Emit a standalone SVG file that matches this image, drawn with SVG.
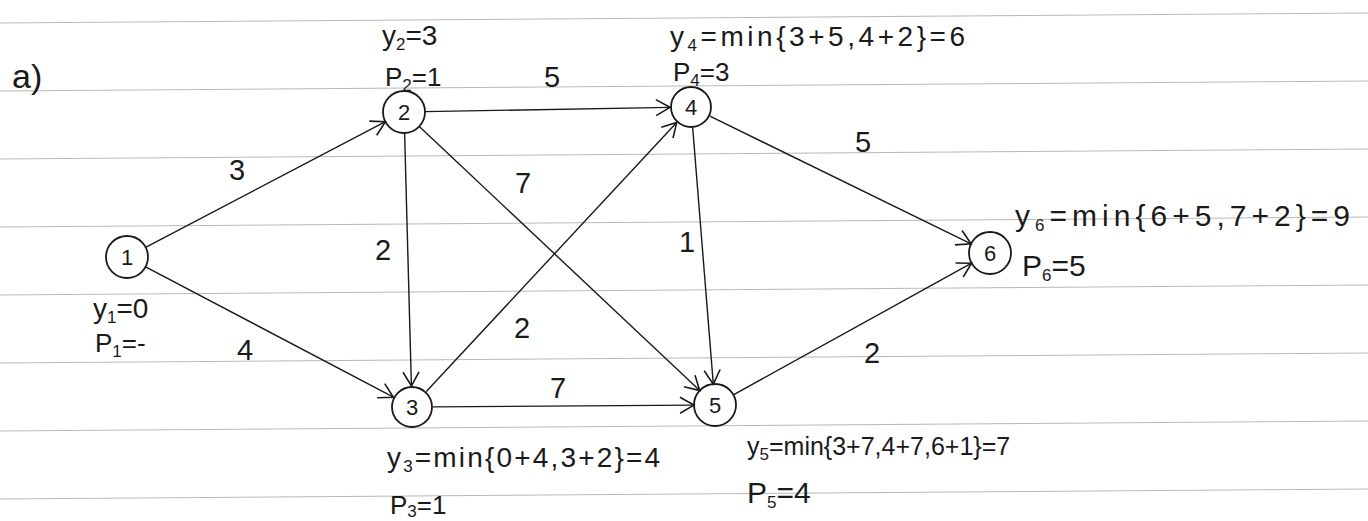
<svg xmlns="http://www.w3.org/2000/svg" width="1368" height="521" viewBox="0 0 1368 521">
  <style>
    .rule { stroke: #b8b8b8; stroke-width: 1; fill: none; }
    .edge { stroke: #1a1a1a; stroke-width: 1.4; fill: none; marker-end: url(#arr); }
    .node circle { fill: none; stroke: #1a1a1a; stroke-width: 1.8; }
    .nl { font-family: "Liberation Sans", Arial, sans-serif; font-size: 22px; fill: #1a1a1a; text-anchor: middle; }
    .w { font-family: "Liberation Sans", Arial, sans-serif; font-size: 29px; fill: #1a1a1a; text-anchor: middle; }
    .ann { font-family: "Liberation Sans", Arial, sans-serif; font-size: 28px; fill: #1a1a1a; text-anchor: start; }
    .p25 { font-size: 25px; }
    .p26 { font-size: 26px; }
    .p30 { font-size: 30px; }
    .big { font-size: 34px; }
    .sub { font-size: 17px; }
  </style>
  <defs>
    <marker id="arr" markerWidth="20" markerHeight="20" refX="0" refY="0" viewBox="-16 -10 20 20" orient="auto" markerUnits="userSpaceOnUse">
      <path d="M -14 -8 L 0 0 L -14 8" fill="none" stroke="#1a1a1a" stroke-width="1.6"/>
    </marker>
  </defs>
  <rect width="1368" height="521" fill="#ffffff"/>
  <g id="paper">
    <line class="rule" x1="0" y1="23" x2="1368" y2="13"/>
    <line class="rule" x1="0" y1="91" x2="1368" y2="81"/>
    <line class="rule" x1="0" y1="159" x2="1368" y2="149"/>
    <line class="rule" x1="0" y1="227" x2="1368" y2="217"/>
    <line class="rule" x1="0" y1="295" x2="1368" y2="285"/>
    <line class="rule" x1="0" y1="363" x2="1368" y2="353"/>
    <line class="rule" x1="0" y1="431" x2="1368" y2="421"/>
    <line class="rule" x1="0" y1="499" x2="1368" y2="489"/>
  </g>
  <text class="ann big" x="12" y="88">a)</text>
  <g id="connectors">
    <line class="edge" x1="145.6" y1="247.3" x2="385.4" y2="121.7"/>
    <line class="edge" x1="145.6" y1="266.8" x2="393.4" y2="397.2"/>
    <line class="edge" x1="425" y1="111.6" x2="670" y2="107.4"/>
    <line class="edge" x1="404.6" y1="133" x2="411.4" y2="386"/>
    <line class="edge" x1="419.3" y1="126.4" x2="699.7" y2="390.6"/>
    <line class="edge" x1="426.3" y1="391.6" x2="676.7" y2="122.4"/>
    <line class="edge" x1="433" y1="406.9" x2="694" y2="405.1"/>
    <line class="edge" x1="692.7" y1="127.9" x2="713.3" y2="384.1"/>
    <line class="edge" x1="709.9" y1="116.2" x2="971.1" y2="243.8"/>
    <line class="edge" x1="733.4" y1="394.8" x2="971.6" y2="263.2"/>
    <text class="w" x="237" y="180">3</text>
    <text class="w" x="245" y="360">4</text>
    <text class="w" x="552" y="87">5</text>
    <text class="w" x="383" y="260">2</text>
    <text class="w" x="523" y="193">7</text>
    <text class="w" x="522" y="338">2</text>
    <text class="w" x="558" y="398">7</text>
    <text class="w" x="687" y="252">1</text>
    <text class="w" x="863" y="152">5</text>
    <text class="w" x="872" y="363">2</text>
  </g>
  <g id="node1" class="node">
    <circle cx="127" cy="257" r="21"/>
    <text class="nl" x="127" y="265">1</text>
    <text class="ann" x="93" y="318">y<tspan class="sub" dy="5">1</tspan><tspan dy="-5">=0</tspan></text>
    <text class="ann p26" x="95" y="352">P<tspan class="sub" dy="5">1</tspan><tspan dy="-5">=-</tspan></text>
  </g>
  <g id="node2" class="node">
    <circle cx="404" cy="112" r="21"/>
    <text class="nl" x="404" y="120">2</text>
    <text class="ann" x="382" y="45">y<tspan class="sub" dy="5">2</tspan><tspan dy="-5">=3</tspan></text>
    <text class="ann p26" x="385" y="86">P<tspan class="sub" dy="5">2</tspan><tspan dy="-5">=1</tspan></text>
  </g>
  <g id="node3" class="node">
    <circle cx="412" cy="407" r="20"/>
    <text class="nl" x="412" y="415">3</text>
    <text class="ann" x="387" y="467" textLength="273">y<tspan class="sub" dy="5">3</tspan><tspan dy="-5">=min{0+4,3+2}=4</tspan></text>
    <text class="ann p26" x="390" y="514">P<tspan class="sub" dy="3">3</tspan><tspan dy="-3">=1</tspan></text>
  </g>
  <g id="node4" class="node">
    <circle cx="691" cy="107" r="20"/>
    <text class="nl" x="691" y="115">4</text>
    <text class="ann" x="670" y="46" textLength="295">y<tspan class="sub" dy="5">4</tspan><tspan dy="-5">=min{3+5,4+2}=6</tspan></text>
    <text class="ann p26" x="673" y="81">P<tspan class="sub" dy="5">4</tspan><tspan dy="-5">=3</tspan></text>
  </g>
  <g id="node5" class="node">
    <circle cx="715" cy="405" r="21"/>
    <text class="nl" x="715" y="413">5</text>
    <text class="ann p25" x="747" y="455">y<tspan class="sub" dy="5">5</tspan><tspan dy="-5">=min{3+7,4+7,6+1}=7</tspan></text>
    <text class="ann p30" x="747" y="503">P<tspan class="sub" dy="5">5</tspan><tspan dy="-5">=4</tspan></text>
  </g>
  <g id="node6" class="node">
    <circle cx="990" cy="253" r="21"/>
    <text class="nl" x="990" y="261">6</text>
    <text class="ann p30" x="1015" y="226" textLength="335">y<tspan class="sub" dy="5">6</tspan><tspan dy="-5">=min{6+5,7+2}=9</tspan></text>
    <text class="ann p30" x="1022" y="276">P<tspan class="sub" dy="5">6</tspan><tspan dy="-5">=5</tspan></text>
  </g>
</svg>
